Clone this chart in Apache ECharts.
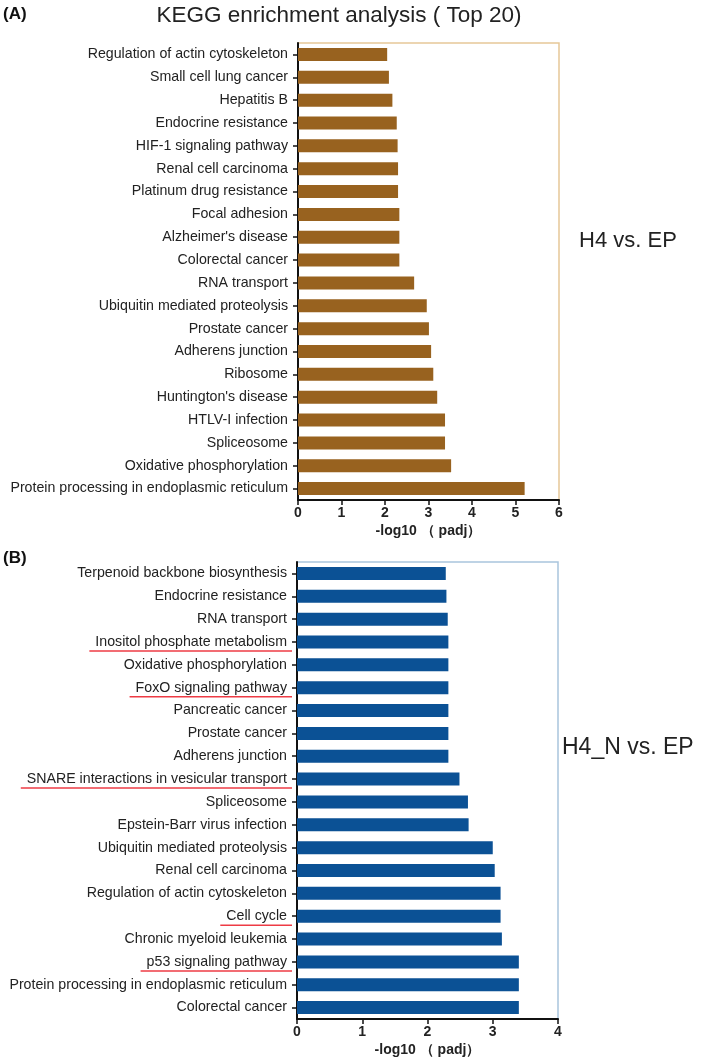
<!DOCTYPE html>
<html><head><meta charset="utf-8">
<script src="https://cdn.jsdelivr.net/npm/echarts@6/dist/echarts.min.js"></script>
<style>html,body{margin:0;padding:0;background:#fff}#c{width:709px;height:1058px}</style>
</head><body><div id="c"></div>
<script>
const catsA = ["Regulation of actin cytoskeleton","Small cell lung cancer","Hepatitis B","Endocrine resistance","HIF-1 signaling pathway","Renal cell carcinoma","Platinum drug resistance","Focal adhesion","Alzheimer's disease","Colorectal cancer","RNA transport","Ubiquitin mediated proteolysis","Prostate cancer","Adherens junction","Ribosome","Huntington's disease","HTLV-I infection","Spliceosome","Oxidative phosphorylation","Protein processing in endoplasmic reticulum"];
const valsA = [2.05,2.09,2.17,2.27,2.29,2.30,2.30,2.33,2.33,2.33,2.67,2.96,3.01,3.06,3.11,3.20,3.38,3.38,3.52,5.21];
const catsB = ["Terpenoid backbone biosynthesis","Endocrine resistance","RNA transport","Inositol phosphate metabolism","Oxidative phosphorylation","FoxO signaling pathway","Pancreatic cancer","Prostate cancer","Adherens junction","SNARE interactions in vesicular transport","Spliceosome","Epstein-Barr virus infection","Ubiquitin mediated proteolysis","Renal cell carcinoma","Regulation of actin cytoskeleton","Cell cycle","Chronic myeloid leukemia","p53 signaling pathway","Protein processing in endoplasmic reticulum","Colorectal cancer"];
const valsB = [2.28,2.29,2.31,2.32,2.32,2.32,2.32,2.32,2.32,2.49,2.62,2.63,3.00,3.03,3.12,3.12,3.14,3.40,3.40,3.40];
const underlinedB = ["Inositol phosphate metabolism","FoxO signaling pathway","SNARE interactions in vesicular transport","Cell cycle","p53 signaling pathway"];
const ticksA = [0,1,2,3,4,5,6];
const ticksB = [0,1,2,3,4];

const FONT = "'Liberation Sans', Arial, sans-serif";
const LABEL_SIZE = 14.2;
const LABEL_MARGIN = 10;
const chart = echarts.init(document.getElementById('c'));

function xAx(idx, max){
  return {type:'value', gridIndex:idx, min:0, max:max, interval:1,
    name:'-log10 \uFF08 padj\uFF09', nameLocation:'middle', nameGap:24,
    nameTextStyle:{fontFamily:FONT,fontWeight:'bold',fontSize:14,color:'#222'},
    axisLine:{show:true,lineStyle:{color:'#111',width:2}},
    axisTick:{show:true,length:5,lineStyle:{color:'#111',width:1.5}},
    axisLabel:{fontFamily:FONT,fontWeight:'bold',fontSize:14,color:'#222',margin:6},
    splitLine:{show:false}};
}
function yAx(idx, cats){
  return {type:'category', gridIndex:idx, data:cats, inverse:true,
    axisLine:{show:true,lineStyle:{color:'#111',width:2}},
    axisTick:{show:true,length:5,alignWithLabel:true,lineStyle:{color:'#111',width:1.5}},
    axisLabel:{fontFamily:FONT,fontSize:LABEL_SIZE,color:'#222',margin:LABEL_MARGIN}};
}

chart.setOption({
  animation:false,
  backgroundColor:'#fff',
  title:[
    {text:'KEGG enrichment analysis ( Top 20)', left:339, top:4, padding:0, textAlign:'center',
     textStyle:{fontFamily:FONT,fontWeight:'normal',fontSize:22.5,color:'#222'}},
    {text:'(A)', left:3, top:6, padding:0, textStyle:{fontFamily:FONT,fontWeight:'bold',fontSize:17,color:'#111'}},
    {text:'(B)', left:3, top:550, padding:0, textStyle:{fontFamily:FONT,fontWeight:'bold',fontSize:17,color:'#111'}},
    {text:'H4 vs. EP', left:579, top:230, padding:0, textStyle:{fontFamily:FONT,fontWeight:'normal',fontSize:22,color:'#222'}},
    {text:'H4_N vs. EP', left:562, top:736, padding:0, textStyle:{fontFamily:FONT,fontWeight:'normal',fontSize:23,color:'#222'}}
  ],
  grid:[
    {left:298, top:43, width:261, height:457, show:true, borderColor:'#e6c898', borderWidth:1.5, backgroundColor:'#fff'},
    {left:297, top:562, width:261, height:457, show:true, borderColor:'#a9c5dd', borderWidth:1.5, backgroundColor:'#fff'}
  ],
  xAxis:[xAx(0,ticksA[ticksA.length-1]), xAx(1,ticksB[ticksB.length-1])],
  yAxis:[yAx(0,catsA), yAx(1,catsB)],
  series:[
    {type:'bar', xAxisIndex:0, yAxisIndex:0, data:valsA, barWidth:13,
     itemStyle:{color:'#98621f'}},
    {type:'bar', xAxisIndex:1, yAxisIndex:1, data:valsB, barWidth:13,
     itemStyle:{color:'#0b5195'}}
  ]
});

// red underlines under selected labels of panel B
const cv = document.createElement('canvas').getContext('2d');
cv.font = LABEL_SIZE + "px 'Liberation Sans', Arial, sans-serif";
const lines = [];
underlinedB.forEach(name => {
  const y = chart.convertToPixel({yAxisIndex:1}, name);
  const x0 = chart.convertToPixel({xAxisIndex:1}, 0);
  const textRight = x0 - LABEL_MARGIN;
  const w = cv.measureText(name).width;
  lines.push({type:'line', shape:{x1:textRight - w - 6, y1:y+9, x2:x0-5, y2:y+9},
    style:{stroke:'#ee3b44', lineWidth:1.5}, z:100});
});
chart.setOption({graphic:lines});
</script>
</body></html>
